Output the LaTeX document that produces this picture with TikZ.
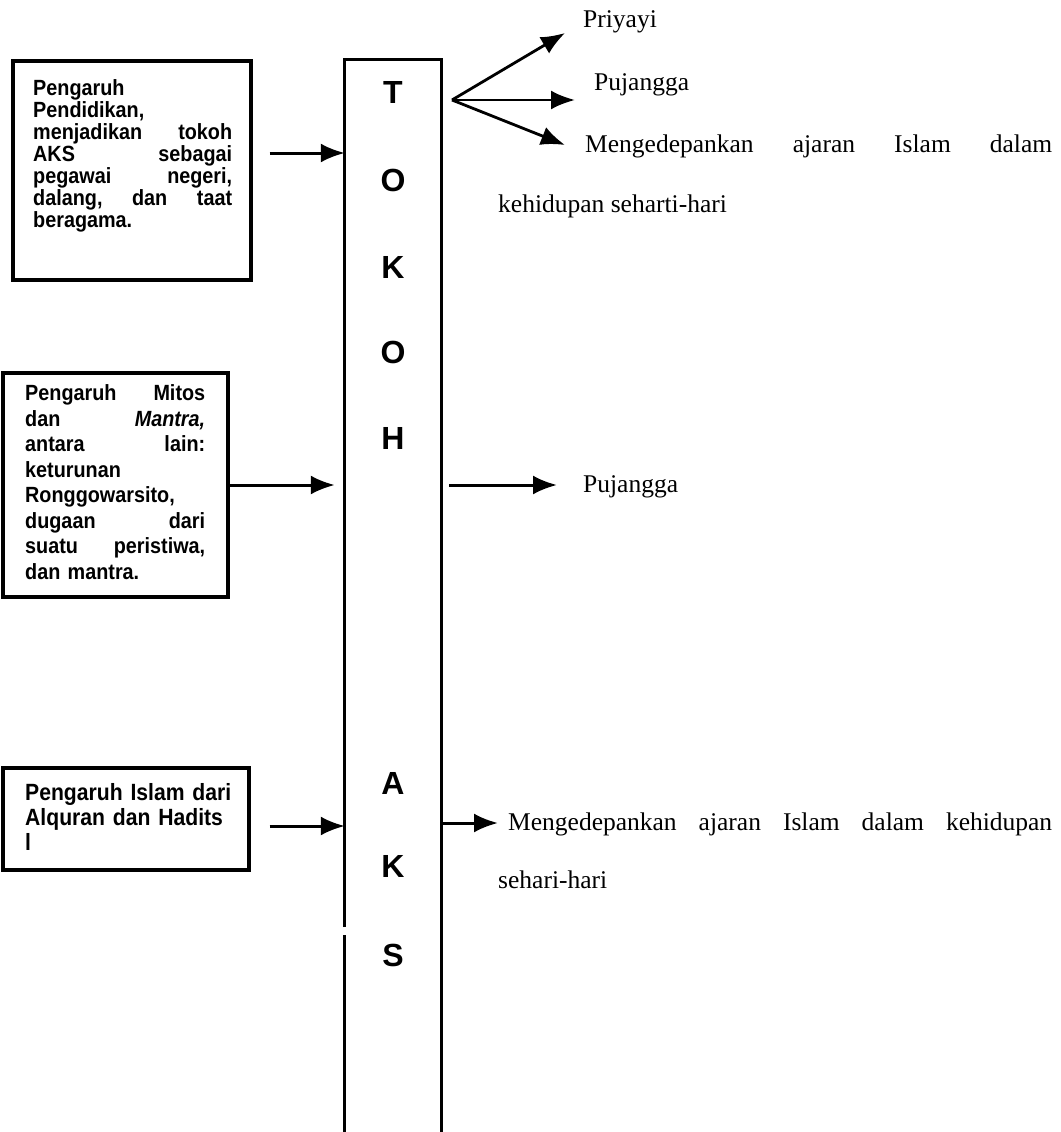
\documentclass[tikz,border=0pt]{standalone}
\usepackage{fontspec}
\setmainfont{Liberation Serif}
\setsansfont{Liberation Sans}
\newfontfamily\boxfont{Liberation Sans}[FakeStretch=0.9]
\usetikzlibrary{arrows.meta,calc}
\newcommand\jline[2]{\leavevmode\hbox to #1{#2}}
\begin{document}
\begin{tikzpicture}[x=1pt,y=-1pt,
  inbox/.style={draw, line width=3.2pt, inner sep=0pt, rectangle},
  boxtext/.style={inner sep=0pt, anchor=north west, align=left},
  letter/.style={inner sep=0pt, font=\sffamily\bfseries\fontsize{32}{32}\selectfont},
  lbl/.style={inner sep=0pt, anchor=base west, font=\fontsize{25.5}{30}\selectfont},
  colline/.style={line width=3pt},
  arr/.style={line width=3pt, -{Latex[length=24pt,width=19pt]}},
  fanarr/.style={line width=2.8pt, -{Latex[length=24pt,width=19pt]}}]
\useasboundingbox (0,0) rectangle (1060,1132);

% central column
\node[inner sep=0pt, minimum width=96pt, minimum height=1072pt] (col) at (393,596) {};
\coordinate (g1) at (0,927);
\coordinate (g2) at (0,935);
\draw[colline, line join=miter] (col.west |- g1) -- (col.north west) -- (col.north east) -- (col.south east);
\draw[colline] (col.west |- g2) -- (col.south west);

\node[letter] (lT)  at (393,92)  {T};
\node[letter] (lO1) at (393,180) {O};
\node[letter] (lK1) at (393,267) {K};
\node[letter] (lO2) at (393,352) {O};
\node[letter] (lH)  at (393,438) {H};
\node[letter] (lA)  at (393,783) {A};
\node[letter] (lK2) at (393,866) {K};
\node[letter] (lS)  at (393,955) {S};

% box 1
\node[inbox, minimum width=238pt, minimum height=219pt] (b1) at (132,170.5) {};
\node[boxtext, text width=199pt, font=\boxfont\bfseries\fontsize{22}{22}\selectfont] (b1t) at (33,79.8)
 {Pengaruh\\
  Pendidikan,\\
  \jline{199pt}{menjadikan\hfill tokoh}\\
  \jline{199pt}{AKS\hfill sebagai}\\
  \jline{199pt}{pegawai\hfill negeri,}\\
  \jline{199pt}{dalang,\hfill dan\hfill taat}\\
  beragama.};
\coordinate (a1) at (0,153);
\draw[arr] ($(b1.east |- a1)+(17,0)$) -- (col.west |- a1);

% box 2
\node[inbox, minimum width=225pt, minimum height=224pt] (b2) at (115.5,485) {};
\node[boxtext, text width=180pt, font=\boxfont\bfseries\fontsize{22}{25.5}\selectfont] (b2t) at (25,384.8)
 {\jline{180pt}{Pengaruh\hfill Mitos}\\
  \jline{180pt}{dan\hfill \textit{Mantra,}}\\
  \jline{180pt}{antara\hfill lain:}\\
  keturunan\\
  Ronggowarsito,\\
  \jline{180pt}{dugaan\hfill dari}\\
  \jline{180pt}{suatu\hfill peristiwa,}\\
  dan mantra.};
\draw[arr] (b2.east) -- ($(col.west |- b2.east)+(-10,0)$);

% box 3
\node[inbox, minimum width=246pt, minimum height=102pt] (b3) at (126,819) {};
\node[boxtext, text width=215pt, font=\boxfont\bfseries\fontsize{23.5}{25}\selectfont] (b3t) at (25,783.3)
 {Pengaruh Islam dari\\
  Alquran dan Hadits\\
  l};
\coordinate (a3) at (0,826);
\draw[arr] ($(b3.east |- a3)+(19,0)$) -- (col.west |- a3);

% right side: fan
\coordinate (fan) at (452,100);
\coordinate (tip1) at (565,33);
\coordinate (tip2) at (575,100);
\coordinate (tip3) at (565,145);
\draw[fanarr] (fan) -- (tip1);
\draw[fanarr] (fan) -- (tip2);
\draw[fanarr] (fan) -- (tip3);
\node[lbl] (pri)   at (583,28)  {Priyayi};
\node[lbl] (puj1)  at (594,90)  {Pujangga};
\node[lbl] (meng1) at (585,152) {\makebox[467pt][s]{Mengedepankan ajaran Islam dalam}};
\node[lbl] (keh1)  at (498,212) {kehidupan seharti-hari};

% right side: middle
\coordinate (a2) at (0,485);
\coordinate (tip4) at (557,485);
\draw[arr] ($(col.east |- a2)+(8,0)$) -- (tip4);
\node[lbl] (puj2) at (583,492) {Pujangga};

% right side: bottom
\coordinate (a4) at (0,823);
\coordinate (tip5) at (498,823);
\draw[arr] (col.east |- a4) -- (tip5);
\node[lbl] (meng2) at (508,830) {\makebox[544pt][s]{Mengedepankan ajaran Islam dalam kehidupan}};
\node[lbl] (seh) at (498,888) {sehari-hari};
\end{tikzpicture}
\end{document}
